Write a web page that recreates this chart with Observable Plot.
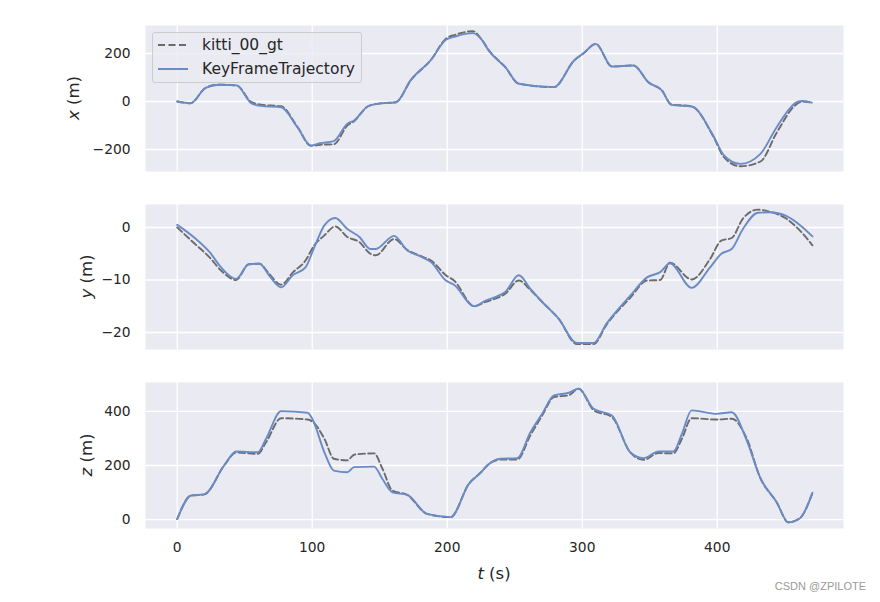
<!DOCTYPE html>
<html>
<head>
<meta charset="utf-8">
<script src="https://cdn.jsdelivr.net/npm/d3@7"></script>
<script src="https://cdn.jsdelivr.net/npm/@observablehq/plot@0.6"></script>
<style>
  html, body { margin: 0; padding: 0; background: #ffffff; }
  #fig { position: relative; width: 880px; height: 602px; font-family: "DejaVu Sans", sans-serif; color: #262626; }
  #fig > .panel { position: absolute; left: 0; }
  #legend { position: absolute; left: 152px; top: 32px; width: 210px; height: 51px; box-sizing: border-box;
    border: 1px solid #cccccc; border-radius: 3px; background: rgba(234,234,242,0.8); font-size: 15.5px; }
  #legend .row { position: absolute; left: 0; height: 20px; display: flex; align-items: center; white-space: nowrap; }
  #legend svg { margin-left: 4px; margin-right: 13px; }
  #wm { position: absolute; right: 14px; top: 580px; font-size: 11px; color: #9a9a9a; font-family: "Liberation Sans", sans-serif; }
</style>
</head>
<body>
<div id="fig"></div>
<script>
// ---- data ----
const seriesNames = ["kitti_00_gt", "KeyFrameTrajectory"];
const tickT = [0, 100, 200, 300, 400];

const tX   = [0, 10, 21, 31, 44, 55, 62, 77, 89, 99, 106, 116, 126, 131, 141, 148, 162, 173, 188, 199, 206, 219, 225, 231, 243, 253, 279, 294, 301, 310, 322, 338, 349, 359, 366, 381, 397, 405, 417, 432, 444, 459, 463, 470];
const gtX  = [0, -7, 57, 70, 67, -3, -13, -20, -105, -185, -180, -178, -100, -82, -21, -10, -3, 88, 174, 262, 278, 293, 262, 212, 143, 74, 60, 171, 201, 240, 146, 150, 80, 46, -12, -20, -145, -232, -270, -250, -130, -10, 0, -5];
const estX = [0, -7, 57, 70, 67, -8, -18, -24, -107, -183, -174, -165, -93, -79, -21, -10, -3, 90, 174, 257, 271, 285, 261, 210, 143, 74, 60, 171, 201, 240, 146, 150, 80, 46, -14, -21, -142, -225, -260, -218, -107, -3, 2, -5];
const tickXv = [-200, 0, 200];

const tY   = [0, 13, 24, 32.5, 43.6, 53, 61, 68, 77, 85.5, 95, 101.5, 109, 117, 126, 135, 143, 147, 160.6, 170.5, 180, 188, 199, 205, 220, 228, 235, 243, 253, 261.6, 270, 282.6, 296, 308.4, 318, 335.5, 348, 357.7, 365, 381, 394.7, 403, 410.7, 419, 430, 439, 451, 462, 470.5];
const gtY  = [0, -3.1, -5.7, -8.2, -10.0, -7.0, -6.9, -8.8, -10.9, -8.6, -6.3, -3.4, -1.5, 0.2, -1.8, -2.8, -5.0, -5.3, -2.2, -4.3, -5.4, -6.3, -9.1, -10.1, -15.0, -14.2, -13.6, -12.6, -10.1, -11.9, -14.1, -17.4, -22.2, -22.2, -18.5, -13.4, -10.1, -10.0, -6.7, -9.9, -6.0, -2.5, -2.0, 1.7, 3.4, 3.0, 1.7, -0.8, -3.4];
const estY = [0.5, -2.0, -4.7, -7.6, -9.8, -7.0, -6.9, -9.1, -11.4, -9.1, -7.6, -3.8, 0.4, 1.8, -0.3, -1.8, -4.1, -4.1, -1.6, -4.4, -5.5, -6.6, -10.1, -10.9, -15.0, -14.0, -13.3, -12.3, -9.1, -11.7, -14.1, -17.4, -22.0, -22.0, -18.3, -13.0, -9.5, -8.5, -6.8, -11.5, -7.6, -5.0, -4.1, -0.3, 2.8, 2.9, 2.2, 0.3, -1.7];
const tickYv = [-20, -10, 0];

const tZ   = [0, 10.3, 20, 35, 43.6, 59.6, 65.8, 77, 96.6, 100, 109, 116, 126, 131, 145.8, 152, 159.4, 170.5, 185, 202.5, 216, 225, 229.6, 239.5, 251.8, 261.6, 270.3, 279, 290, 297.3, 308.4, 322, 335.5, 345.4, 356.5, 367.5, 373.8, 381, 399.6, 410.7, 421.8, 431.6, 444, 452.6, 461.2, 470.5];
const gtZ  = [2, 89, 93, 202, 248, 243, 286, 375, 370, 363, 299, 225, 219, 240, 245, 188, 107, 91, 21, 9, 132, 175, 200, 222, 222, 312, 385, 453, 460, 484, 405, 379, 249, 221, 246, 245, 299, 375, 370, 373, 300, 157, 64, -10, 5, 99];
const estZ = [2, 89, 93, 202, 252, 249, 299, 401, 395, 373, 249, 181, 175, 194, 196, 150, 101, 91, 21, 9, 132, 175, 200, 225, 227, 323, 391, 459, 469, 484, 410, 385, 249, 227, 252, 252, 317, 404, 391, 397, 293, 157, 64, -10, 5, 99];
const tickZv = [0, 200, 400];

// ---- build ----
const GT_COLOR = "#6b6b6b";
const EST_COLOR = "#6a8bc6";
const fig = document.getElementById("fig");

function rows(t, v) { return t.map((d, i) => ({t: d, v: v[i]})); }

function panel({top, height, mt, mb, domain, ticks, t, gt, est, showX, varName, labelX}) {
  const marks = [
    Plot.frame({fill: "#eaeaf2", stroke: null}),
    Plot.gridX(tickT, {stroke: "white", strokeOpacity: 1, strokeWidth: 1.3}),
    Plot.gridY(ticks, {stroke: "white", strokeOpacity: 1, strokeWidth: 1.3}),
    Plot.line(rows(t, gt), {x: "t", y: "v", stroke: GT_COLOR, strokeWidth: 1.9, strokeDasharray: "6.5,3.2", curve: "monotone-x"}),
    Plot.line(rows(t, est), {x: "t", y: "v", stroke: EST_COLOR, strokeWidth: 1.9, curve: "monotone-x"}),
    Plot.axisY(ticks, {tickSize: 0, tickPadding: 15, label: null, fontSize: 13.8})
  ];
  if (showX) marks.push(Plot.axisX(tickT, {tickSize: 0, tickPadding: 14, label: null, fontSize: 13.8}));
  const p = Plot.plot({
    width: 880, height, marginLeft: 145, marginRight: 37, marginTop: mt, marginBottom: mb,
    x: {domain: [-23.5, 493.5], axis: null},
    y: {domain, axis: null},
    style: {background: "transparent", fontFamily: "DejaVu Sans", color: "#262626", overflow: "visible"},
    marks
  });
  const wrap = document.createElement("div");
  wrap.className = "panel";
  wrap.style.top = top + "px";
  wrap.appendChild(p);
  fig.appendChild(wrap);
  const svg = d3.select(p.tagName === "svg" ? p : p.querySelector("svg"));
  const cy = mt + (height - mt - mb) / 2;
  const lab = svg.append("text")
    .attr("transform", `translate(${labelX},${cy}) rotate(-90)`)
    .attr("text-anchor", "middle")
    .attr("dominant-baseline", "central")
    .attr("font-size", 16.5).attr("fill", "#262626").attr("font-family", "DejaVu Sans");
  lab.append("tspan").attr("font-style", "italic").text(varName);
  lab.append("tspan").text(" (m)");
  return svg;
}

panel({top: 0, height: 180, mt: 25, mb: 9, domain: [-291.7, 316.7], ticks: tickXv, t: tX, gt: gtX, est: estX, showX: false, varName: "x", labelX: 73});
panel({top: 180, height: 178, mt: 24, mb: 9, domain: [-23.24, 4.38], ticks: tickYv, t: tY, gt: gtY, est: estY, showX: false, varName: "y", labelX: 86});
const s3 = panel({top: 358, height: 244, mt: 24, mb: 74, domain: [-33, 507], ticks: tickZv, t: tZ, gt: gtZ, est: estZ, showX: true, varName: "z", labelX: 86});
const xl = s3.append("text")
  .attr("x", 494).attr("y", 215)
  .attr("text-anchor", "middle").attr("dominant-baseline", "central")
  .attr("font-size", 16.5).attr("fill", "#262626").attr("font-family", "DejaVu Sans");
xl.append("tspan").attr("font-style", "italic").text("t");
xl.append("tspan").text(" (s)");

// legend
const lg = document.createElement("div");
lg.id = "legend";
lg.innerHTML = `
  <div class="row" style="top:2px"><svg width="32" height="10"><line x1="1" x2="31" y1="5" y2="5" stroke="${GT_COLOR}" stroke-width="2" stroke-dasharray="7,3.5"/></svg><span>${seriesNames[0]}</span></div>
  <div class="row" style="top:26px"><svg width="32" height="10"><line x1="1" x2="31" y1="5" y2="5" stroke="${EST_COLOR}" stroke-width="2"/></svg><span>${seriesNames[1]}</span></div>`;
fig.appendChild(lg);

const wm = document.createElement("div");
wm.id = "wm";
wm.textContent = "CSDN @ZPILOTE";
fig.appendChild(wm);
</script>
</body>
</html>
